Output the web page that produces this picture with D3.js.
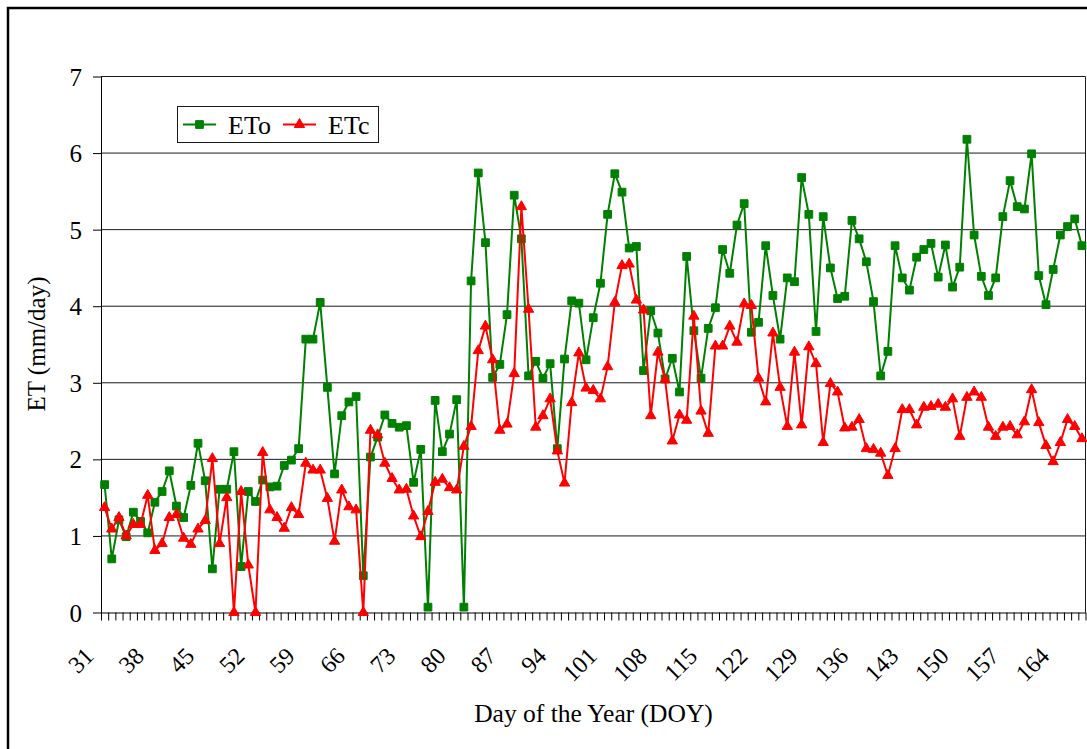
<!DOCTYPE html>
<html>
<head>
<meta charset="utf-8">
<script src="https://cdn.jsdelivr.net/npm/d3@7"></script>
<style>
  body { margin: 0; background: #fff; }
  text { font-family: "Liberation Serif", "Times New Roman", serif; fill: #000; }
</style>
</head>
<body>
<svg id="chart"></svg>
<script>
// Valores (DOY 31 a 167).
var firstDay = 31;
var tickDays = [31, 38, 45, 52, 59, 66, 73, 80, 87, 94, 101, 108, 115, 122, 129, 136, 143, 150, 157, 164];
var yTicks = [0, 1, 2, 3, 4, 5, 6, 7];

var eto = [
  1.67, 0.70, 1.21, 0.99, 1.31, 1.19, 1.04, 1.44, 1.58, 1.85,
  1.39, 1.24, 1.66, 2.21, 1.72, 0.57, 1.61, 1.61, 2.10, 0.60,
  1.58, 1.45, 1.73, 1.64, 1.65, 1.92, 1.99, 2.14, 3.57, 3.57,
  4.05, 2.94, 1.81, 2.57, 2.75, 2.82, 0.48, 2.03, 2.29, 2.58,
  2.47, 2.42, 2.44, 1.70, 2.13, 0.07, 2.77, 2.10, 2.33, 2.78,
  0.07, 4.33, 5.74, 4.83, 3.07, 3.24, 3.89, 5.45, 4.88, 3.09,
  3.28, 3.06, 3.25, 2.14, 3.31, 4.07, 4.04, 3.30, 3.85, 4.30,
  5.20, 5.73, 5.49, 4.76, 4.78, 3.16, 3.94, 3.65, 3.05, 3.32,
  2.88, 4.65, 3.68, 3.06, 3.71, 3.98, 4.74, 4.43, 5.06, 5.34,
  3.66, 3.79, 4.79, 4.14, 3.57, 4.37, 4.32, 5.68, 5.20, 3.67,
  5.17, 4.50, 4.10, 4.13, 5.12, 4.88, 4.58, 4.06, 3.09, 3.41,
  4.79, 4.37, 4.21, 4.64, 4.74, 4.82, 4.38, 4.80, 4.25, 4.51,
  6.18, 4.93, 4.39, 4.14, 4.37, 5.17, 5.64, 5.30, 5.27, 5.99,
  4.40, 4.02, 4.48, 4.93, 5.04, 5.14, 4.79
];

var etc = [
  1.37, 1.09, 1.24, 1.00, 1.15, 1.15, 1.53, 0.81, 0.90, 1.24,
  1.28, 0.97, 0.89, 1.09, 1.20, 2.01, 0.90, 1.50, 0.00, 1.58,
  0.62, 0.00, 2.09, 1.34, 1.24, 1.10, 1.37, 1.28, 1.95, 1.86,
  1.86, 1.49, 0.93, 1.60, 1.38, 1.34, 0.00, 2.38, 2.32, 1.95,
  1.75, 1.60, 1.61, 1.26, 0.99, 1.32, 1.70, 1.74, 1.63, 1.60,
  2.17, 2.43, 3.42, 3.74, 3.30, 2.38, 2.46, 3.12, 5.30, 3.96,
  2.42, 2.57, 2.79, 2.11, 1.69, 2.74, 3.39, 2.93, 2.90, 2.79,
  3.21, 4.05, 4.53, 4.55, 4.08, 3.95, 2.57, 3.40, 3.04, 2.24,
  2.58, 2.51, 3.87, 2.63, 2.34, 3.48, 3.48, 3.74, 3.53, 4.03,
  4.01, 3.06, 2.75, 3.65, 2.94, 2.43, 3.40, 2.45, 3.47, 3.25,
  2.22, 2.99, 2.88, 2.41, 2.42, 2.52, 2.14, 2.13, 2.08, 1.79,
  2.14, 2.65, 2.65, 2.45, 2.68, 2.69, 2.72, 2.68, 2.79, 2.30,
  2.81, 2.88, 2.81, 2.42, 2.30, 2.42, 2.43, 2.32, 2.49, 2.91,
  2.48, 2.18, 1.97, 2.22, 2.52, 2.43, 2.27
];

var seriesNames = ["ETo", "ETc"];
var seriesColors = ["#008000", "#ff0000"];

//Dimensões da figura e da área do gráfico.
var W = 1087, H = 749;
var plot = {left: 101, right: 1085.5, top: 76.5, bottom: 612.5};

var svg = d3.select("#chart")
    .attr("width", W)
    .attr("height", H);

//Borda externa do gráfico (cortada à direita e embaixo como na imagem).
svg.append("rect")
    .attr("x", 8).attr("y", 8)
    .attr("width", W + 20).attr("height", H + 20)
    .attr("fill", "none")
    .attr("stroke", "#000")
    .attr("stroke-width", 2.5);

var days = eto.map(function(d, i) { return firstDay + i; });

//Escalas: cada dia é uma categoria, pontos no centro.
var xScale = d3.scaleLinear()
    .domain([days[0] - 0.5, days[days.length - 1] + 0.5])
    .range([plot.left, plot.right]);

var yScale = d3.scaleLinear()
    .domain([0, 7])
    .range([plot.bottom, plot.top]);

//Linhas de grade horizontais.
svg.append("g")
    .selectAll("line")
    .data(yTicks.slice(1))
    .enter()
    .append("line")
    .attr("x1", plot.left).attr("x2", plot.right)
    .attr("y1", function(d) { return yScale(d); })
    .attr("y2", function(d) { return yScale(d); })
    .attr("stroke", "#1a1a1a")
    .attr("stroke-width", 1);

//Borda direita da área do gráfico.
svg.append("line")
    .attr("x1", plot.right).attr("x2", plot.right)
    .attr("y1", plot.top).attr("y2", plot.bottom)
    .attr("stroke", "#1a1a1a");

//Eixo y.
var yAxis = svg.append("g")
    .attr("transform", "translate(" + plot.left + ",0)")
    .call(d3.axisLeft(yScale).tickValues(yTicks).tickFormat(d3.format("d"))
      .tickSize(8).tickPadding(11).tickSizeOuter(0));
yAxis.selectAll("text").style("font-size", "25px").attr("dy", "0.34em");
yAxis.selectAll("line, path").attr("stroke", "#000");

//Eixo x: marcas entre as categorias.
var xAxis = svg.append("g")
    .attr("transform", "translate(0," + plot.bottom + ")")
    .call(d3.axisBottom(xScale)
      .tickValues(days.map(function(d) { return d - 0.5; }).concat([days[days.length - 1] + 0.5]))
      .tickSize(8).tickSizeOuter(0).tickFormat(""));
xAxis.selectAll("line, path").attr("stroke", "#000");

//Rótulos do eixo x, girados.
var xLabels = svg.append("g")
    .attr("transform", "translate(0," + plot.bottom + ")")
    .call(d3.axisBottom(xScale).tickValues(tickDays).tickSize(0).tickFormat(d3.format("d")));
xLabels.select(".domain").remove();
xLabels.selectAll("text")
    .attr("y", 0).attr("dy", 0)
    .attr("transform", "translate(-10,45) rotate(-45)")
    .style("text-anchor", "end")
    .style("font-size", "24px");

//Séries: linhas e marcadores.
var series = [eto, etc];
series.forEach(function(vals, s) {
  var line = d3.line()
    .x(function(d, i) { return xScale(days[i]); })
    .y(function(d) { return yScale(d); });

  svg.append("path")
      .datum(vals)
      .attr("d", line)
      .attr("fill", "none")
      .attr("stroke", seriesColors[s])
      .attr("stroke-width", 2);

  var symbol = d3.symbol().type(s == 0 ? d3.symbolSquare : d3.symbolTriangle).size(s == 0 ? 60 : 46);
  svg.append("g")
    .selectAll("path")
    .data(vals)
    .enter()
    .append("path")
    .attr("d", symbol)
    .attr("transform", function(d, i) { return "translate(" + xScale(days[i]) + "," + yScale(d) + ")"; })
    .attr("fill", seriesColors[s])
    .attr("stroke", seriesColors[s])
    .attr("stroke-width", 1);
});

//Legenda.
var legend = svg.append("g");
legend.append("rect")
    .attr("x", 177.5).attr("y", 106.5)
    .attr("width", 201).attr("height", 36)
    .attr("fill", "#fff")
    .attr("stroke", "#1a1a1a");

var legendX = [183, 283];
seriesNames.forEach(function(name, s) {
  legend.append("line")
      .attr("x1", legendX[s]).attr("x2", legendX[s] + 33)
      .attr("y1", 124.5).attr("y2", 124.5)
      .attr("stroke", seriesColors[s])
      .attr("stroke-width", 2);
  legend.append("path")
      .attr("d", d3.symbol().type(s == 0 ? d3.symbolSquare : d3.symbolTriangle).size(s == 0 ? 60 : 46))
      .attr("transform", "translate(" + (legendX[s] + 16.5) + ",124.5)")
      .attr("fill", seriesColors[s])
      .attr("stroke", seriesColors[s]);
  legend.append("text")
      .attr("x", legendX[s] + 45).attr("y", 134)
      .style("font-size", "26px")
      .text(name);
});

//Títulos dos eixos.
svg.append("text")
    .attr("x", 593.5).attr("y", 722)
    .style("text-anchor", "middle")
    .style("font-size", "25.5px")
    .text("Day of the Year (DOY)");

svg.append("text")
    .attr("transform", "translate(45,344) rotate(-90)")
    .style("text-anchor", "middle")
    .style("font-size", "25px")
    .text("ET (mm/day)");
</script>
</body>
</html>
